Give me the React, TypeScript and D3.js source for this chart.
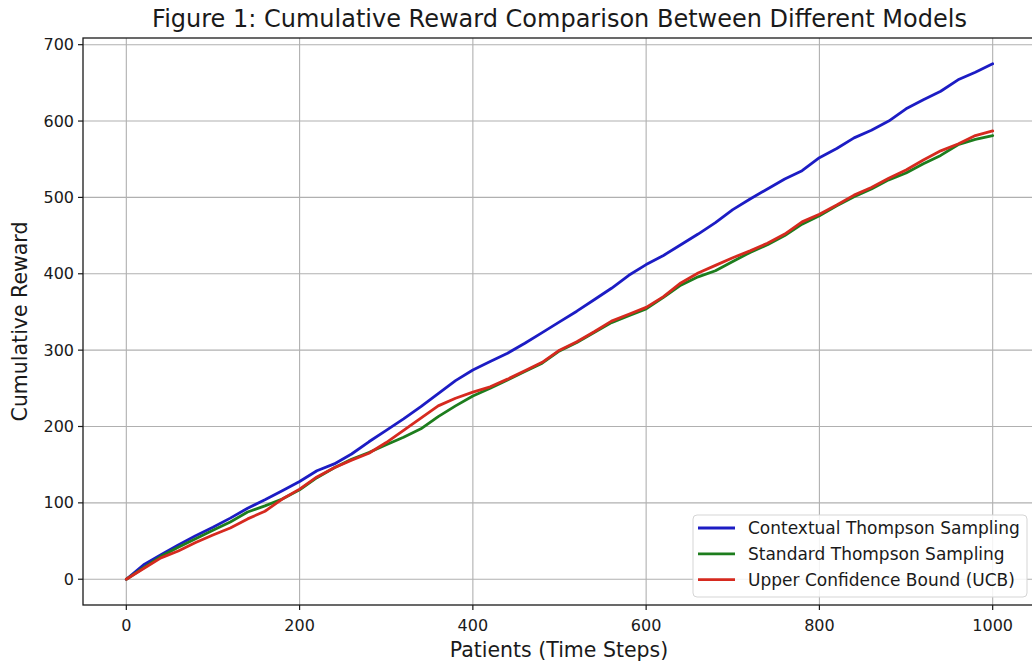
import React from "react";
import * as d3 from "d3";

const steps = d3.range(0, 1001, 20);
const contextualTS = [0,19,32,45,57,68,80,93,104,116,128,142,151,164,180,195,210,226,243,260,274,285,296,309,323,337,351,366,381,398,412,424,438,452,467,484,498,511,524,535,552,564,578,588,600,616,628,639,654,664,675];
const standardTS = [0,15,30,42,53,64,75,88,96,105,117,133,146,157,166,176,186,197,213,227,240,250,261,272,283,299,310,323,336,345,354,369,385,396,404,416,428,438,450,465,476,489,501,511,523,532,544,555,569,576,581];
const ucb = [0,14,28,37,48,58,67,79,89,105,118,134,146,156,165,179,195,211,227,237,245,252,262,273,284,300,311,324,338,347,356,370,388,401,411,421,430,440,452,468,478,490,503,513,525,536,549,561,570,581,587];

const seriesNames = ["Contextual Thompson Sampling", "Standard Thompson Sampling", "Upper Confidence Bound (UCB)"];
const seriesValues = [contextualTS, standardTS, ucb];
const seriesColors = ["#1c1cc4", "#1d7d1d", "#d62a1f"];
const xTicks = [0, 200, 400, 600, 800, 1000];
const yTicks = [0, 100, 200, 300, 400, 500, 600, 700];

const title = "Figure 1: Cumulative Reward Comparison Between Different Models";
const xLabel = "Patients (Time Steps)";
const yLabel = "Cumulative Reward";

export default function App() {
  const W = 1032, H = 664;
  const left = 83, right = 1036, top = 38, bottom = 605;
  const x = d3.scaleLinear().domain([-50, 1050]).range([left, right]);
  const y = d3.scaleLinear().domain([-33.75, 708.75]).range([bottom, top]);
  const line = d3.line<number>().x((_, i) => x(steps[i])).y((d) => y(d));
  const font = "DejaVu Sans, sans-serif";
  const grid = "#b0b0b0";
  const lx = 693, ly = 515, lw = 334, lh = 82;
  const ink = "#1a1a1a";
  return (
    <svg width={W} height={H} style={{ position: "absolute", left: 0, top: 0 }} fontFamily={font}>
      <rect width={W} height={H} fill="#fff" />
      <defs>
        <clipPath id="plot"><rect x={left} y={top} width={right - left} height={bottom - top} /></clipPath>
      </defs>
      {xTicks.map((t) => (
        <line key={"gx" + t} x1={x(t)} x2={x(t)} y1={top} y2={bottom} stroke={grid} strokeWidth={1.1} />
      ))}
      {yTicks.map((t) => (
        <line key={"gy" + t} x1={left} x2={right} y1={y(t)} y2={y(t)} stroke={grid} strokeWidth={1.1} />
      ))}
      <g clipPath="url(#plot)">
        {seriesValues.map((vals, i) => (
          <path key={i} d={line(vals) || ""} fill="none" stroke={seriesColors[i]} strokeWidth={2.8} strokeLinejoin="round" strokeLinecap="round" />
        ))}
      </g>
      <rect x={left} y={top} width={right - left} height={bottom - top} fill="none" stroke={ink} strokeWidth={1.3} />
      {xTicks.map((t) => (
        <g key={"tx" + t}>
          <line x1={x(t)} x2={x(t)} y1={bottom} y2={bottom + 5} stroke={ink} strokeWidth={1.2} />
          <text x={x(t)} y={631} textAnchor="middle" fontSize={16} fill={ink}>{t}</text>
        </g>
      ))}
      {yTicks.map((t) => (
        <g key={"ty" + t}>
          <line x1={left - 5} x2={left} y1={y(t)} y2={y(t)} stroke={ink} strokeWidth={1.2} />
          <text x={left - 9} y={y(t)} dy="0.35em" textAnchor="end" fontSize={16} fill={ink}>{t}</text>
        </g>
      ))}
      <text x={(left + right) / 2} y={27} textAnchor="middle" fontSize={24} fill={ink}>{title}</text>
      <text x={559} y={657} textAnchor="middle" fontSize={20.5} fill={ink}>{xLabel}</text>
      <text transform={`translate(27,${(top + bottom) / 2}) rotate(-90)`} textAnchor="middle" fontSize={20.5} fill={ink}>{yLabel}</text>
      <g>
        <rect x={lx} y={ly} width={lw} height={lh} rx={4} fill="#fff" fillOpacity={0.85} stroke="#d5d5d5" strokeWidth={1} />
        {seriesNames.map((n, i) => (
          <g key={n}>
            <line x1={698} x2={735} y1={528 + i * 25.8} y2={528 + i * 25.8} stroke={seriesColors[i]} strokeWidth={2.8} />
            <text x={748} y={528 + i * 25.8} dy="0.35em" fontSize={17} fill={ink}>{n}</text>
          </g>
        ))}
      </g>
    </svg>
  );
}
